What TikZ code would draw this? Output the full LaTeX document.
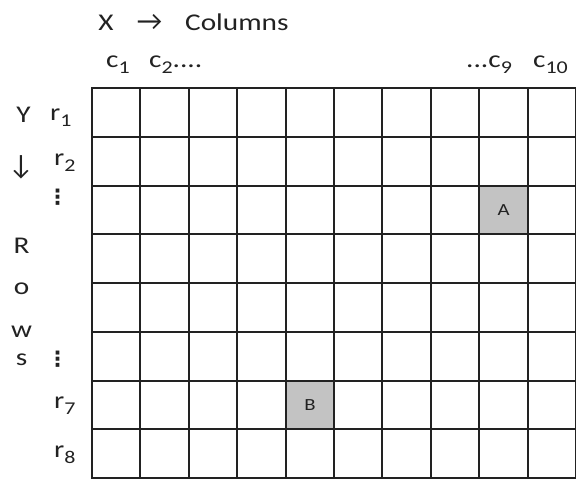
\documentclass[tikz,border=0pt]{standalone}
\usepackage{fontspec}
\setmainfont[FakeStretch=1.22]{Carlito}
\newfontfamily\symfont{Carlito}
\newfontfamily\dotsfont{DejaVu Sans Bold}
\definecolor{ink}{HTML}{222222}
\definecolor{cellgray}{HTML}{C3C3C3}
\newcommand\lowsub[1]{\raisebox{-0.26em}{\fontsize{18}{18}\selectfont #1}}
\tikzset{
  gridline/.style={draw=ink, line width=1.4pt},
  lbl/.style={anchor=base west, inner sep=0pt, text=ink},
  ctr/.style={anchor=base, inner sep=0pt, text=ink},
  cell/.style={fill=cellgray, draw=none, minimum width=48.4pt, minimum height=48.75pt, inner sep=0pt, text=ink, font=\fontsize{17}{20}\selectfont}
}
\begin{document}
\begin{tikzpicture}[x=1pt,y=-1pt,font=\fontsize{24}{28}\selectfont]
\useasboundingbox (0,0) rectangle (576,480);
\fill[white] (0,0) rectangle (576,480);
% highlighted cells
\node[cell] (A) at (503.5,210) {A};
\node[cell] (B) at (310,405) {B};
% grid
\foreach \x in {92,140,189,237,286,334,382,431,479,528,576} \draw[gridline] (\x,88) -- (\x,478);
\foreach \y in {88,137,186,234,283,332,381,429,478} \draw[gridline] (91.3,\y) -- (577,\y);
% header
\node[ctr] (X) at (106,30) {X};
\node[ctr] (xarr) at (149.5,30) {\symfont\fontsize{28}{28}\selectfont →};
\node[lbl] (cols) at (185,30) {Columns};
\node[lbl] (c1) at (106,67) {c\lowsub{1}};
\node[lbl] (c2) at (149,67) {c\lowsub{2}....};
\node[lbl] (c9) at (466,67) {...c\lowsub{9}};
\node[lbl] (c10) at (533,67) {c\lowsub{10}};
% left side
\node[ctr] (Y) at (23.5,122) {Y};
\node[ctr] (yarr) at (21,174) {\symfont\fontsize{28}{28}\selectfont ↓};
\node[ctr] (R) at (21.5,253) {R};
\node[ctr] (o) at (21.5,294) {o};
\node[ctr] (w) at (21.5,337) {w};
\node[ctr] (s) at (21.5,365) {s};
\node[lbl] (r1) at (50,120) {r\lowsub{1}};
\node[lbl] (r2) at (54,165) {r\lowsub{2}};
\node[ctr] (d1) at (57.5,204) {\dotsfont\fontsize{21}{21}\selectfont ⋮};
\node[ctr] (d2) at (57.5,366) {\dotsfont\fontsize{21}{21}\selectfont ⋮};
\node[lbl] (r7) at (54,408) {r\lowsub{7}};
\node[lbl] (r8) at (54,457) {r\lowsub{8}};
\end{tikzpicture}
\end{document}
